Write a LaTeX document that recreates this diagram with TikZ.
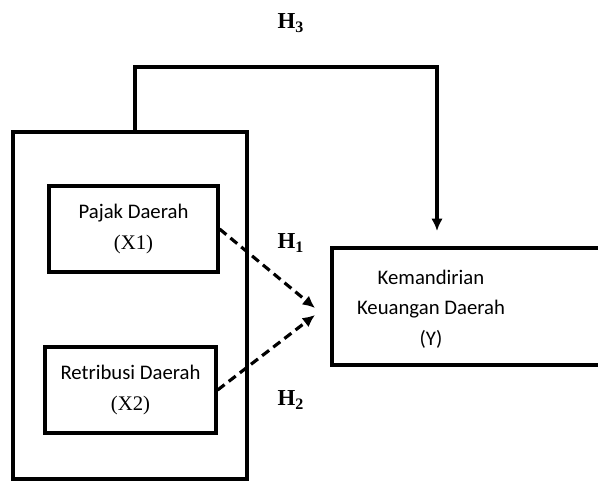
\documentclass[tikz,border=0pt]{standalone}
\usepackage{fontspec}
\setmainfont{Carlito}
\newfontfamily\serifnum{Liberation Serif}
\usetikzlibrary{arrows.meta,positioning}
\newdimen\px \px=0.02cm
\tikzset{>={Latex[length=7pt,width=6.5pt]}}
\tikzset{
  box/.style={draw, line width=1.8pt, inner sep=0pt, align=center, font=\fontsize{11.8}{17.5}\selectfont},
  hlabel/.style={font=\serifnum\fontsize{13}{15}\selectfont\bfseries},
  solidarr/.style={->, line width=1.8pt},
  dasharr/.style={->, line width=1.8pt, dash pattern=on 5pt off 3pt}
}

\begin{document}
\begin{tikzpicture}[x=0.02cm, y=-0.02cm]
    \useasboundingbox (0,0) rectangle (598,481);
    \node[box, minimum width=234*\px, minimum height=347*\px] (outer) at (130,305.5) {};
    \node[box, minimum width=169*\px, minimum height=86*\px] (pajak) at (133.5,229) {Pajak Daerah\\{\serifnum (X1)}};
    \node[box, minimum width=171*\px, minimum height=86*\px] (retribusi) at (130.5,390) {Retribusi Daerah\\{\serifnum (X2)}};
    \node[box, minimum width=310*\px, minimum height=117*\px] (kemandirian) at (487,306.5) {};
    \node[align=center, inner sep=0pt, font=\fontsize{11.8}{17.5}\selectfont] (kemlabel) at (431,309) {Kemandirian\\Keuangan Daerah\\(Y)};

    \coordinate (h3top) at (135,67);
    \coordinate (ytip) at (437,231);
    \coordinate (tip1) at (315,308);
    \coordinate (tip2) at (315,315);

    \draw[solidarr] (outer.north -| h3top) -- (h3top) -| (ytip);
    \draw[dasharr] (pajak.east) -- (tip1);
    \draw[dasharr] (retribusi.east) -- (tip2);

    \node[hlabel] (h3) at (291,23) {H\textsubscript{3}};
    \node[hlabel] (h1) at (291,243) {H\textsubscript{1}};
    \node[hlabel] (h2) at (291,400) {H\textsubscript{2}};
\end{tikzpicture}
\end{document}
